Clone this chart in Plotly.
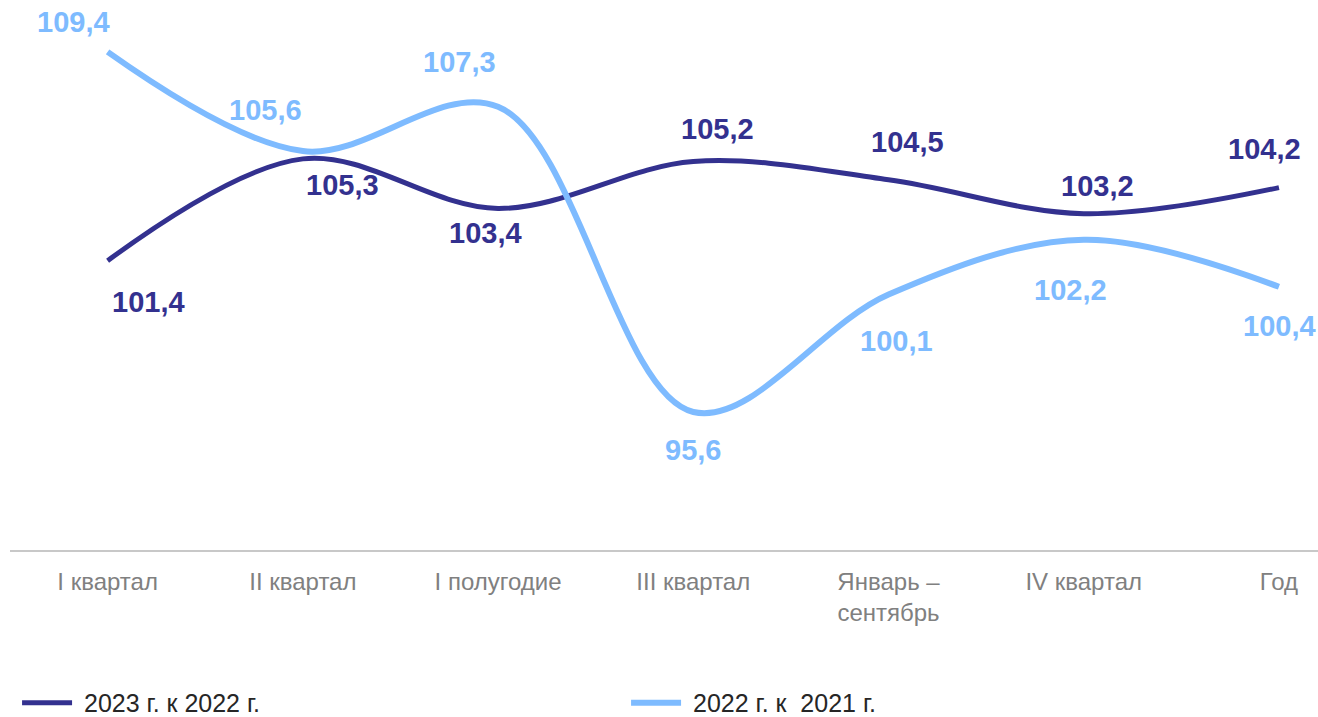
import plotly.graph_objects as go

categories = ["I квартал", "II квартал", "I полугодие", "III квартал",
              "Январь –<br>сентябрь", "IV квартал", "Год"]
series_2023 = [101.4, 105.3, 103.4, 105.2, 104.5, 103.2, 104.2]
series_2022 = [109.4, 105.6, 107.3, 95.6, 100.1, 102.2, 100.4]
labels_2023 = ["101,4", "105,3", "103,4", "105,2", "104,5", "103,2", "104,2"]
labels_2022 = ["109,4", "105,6", "107,3", "95,6", "100,1", "102,2", "100,4"]
name_2023 = " 2023 г. к 2022 г."
name_2022 = " 2022 г. к  2021 г."

# label offsets (px) relative to each point
dx_2023 = [41, 40, -13, 24, 19, 14, -14]
dy_2023 = [-41, -26, -25, 33, 38, 28, 39]
dx_2022 = [-34, -37, -39, 0, 8, -13, 1]
dy_2022 = [30, 41, 45, -38, -46, -50, -39]

DARK = "#33318F"
LIGHT = "#7EBBFF"

fig = go.Figure()
fig.add_trace(go.Scatter(
    x=categories, y=series_2023, name=name_2023, mode="lines",
    line=dict(color=DARK, width=5, shape="spline", smoothing=1.0),
))
fig.add_trace(go.Scatter(
    x=categories, y=series_2022, name=name_2022, mode="lines",
    line=dict(color=LIGHT, width=6, shape="spline", smoothing=1.0),
))

annotations = []
for cat, v, t, dx, dy in zip(categories, series_2023, labels_2023, dx_2023, dy_2023):
    annotations.append(dict(x=cat, y=v, text="<b>" + t + "</b>", showarrow=False,
                            xshift=dx, yshift=dy,
                            font=dict(family="Liberation Sans, Arial", size=29, color=DARK),
                            xanchor="center", yanchor="middle"))
for cat, v, t, dx, dy in zip(categories, series_2022, labels_2022, dx_2022, dy_2022):
    annotations.append(dict(x=cat, y=v, text="<b>" + t + "</b>", showarrow=False,
                            xshift=dx, yshift=dy,
                            font=dict(family="Liberation Sans, Arial", size=29, color=LIGHT),
                            xanchor="center", yanchor="middle"))

fig.update_layout(
    width=1318, height=717,
    margin=dict(l=10, r=0, t=0, b=167, autoexpand=False),
    paper_bgcolor="white", plot_bgcolor="white",
    showlegend=True,
    legend=dict(orientation="h", x=0.0054, xanchor="left", y=-0.278, yanchor="middle",
                font=dict(family="Liberation Sans Narrow, Arial Narrow, Liberation Sans",
                          size=25, color="#262626"),
                entrywidth=544, entrywidthmode="pixels", itemwidth=50),
    annotations=annotations,
    xaxis=dict(range=[-0.5, 6.2], showgrid=False, zeroline=False, automargin=False,
               showline=True, linecolor="#C8C8C8", linewidth=2,
               ticks="", ticklabelstandoff=9,
               tickfont=dict(family="Liberation Sans Narrow, Arial Narrow, Liberation Sans",
                             size=24, color="#808080")),
    yaxis=dict(range=[90.31, 111.39], visible=False, showgrid=False, zeroline=False),
)

fig.write_html("out.html", config={"displayModeBar": False},
               post_script="document.body.style.margin='0';")
